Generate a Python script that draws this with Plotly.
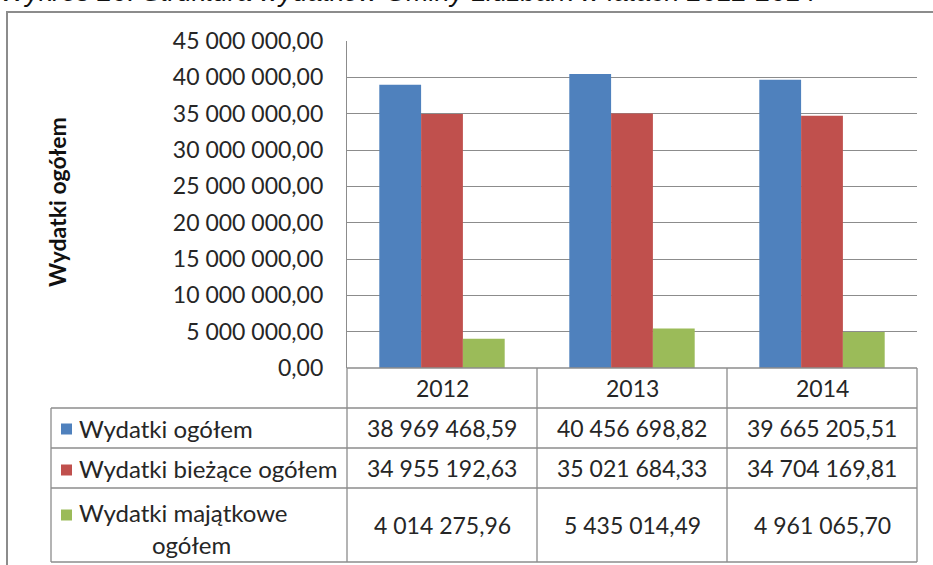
import plotly.graph_objects as go

years = ["2012", "2013", "2014"]
series_names = ["Wydatki ogółem", "Wydatki bieżące ogółem", "Wydatki majątkowe<br>ogółem"]
total = [38969468.59, 40456698.82, 39665205.51]
current = [34955192.63, 35021684.33, 34704169.81]
capital = [4014275.96, 5435014.49, 4961065.70]
colors = ["#4F81BD", "#C0504D", "#9BBB59"]
tick_vals = [0, 5e6, 10e6, 15e6, 20e6, 25e6, 30e6, 35e6, 40e6, 45e6]

W, H = 933, 565
X0, X1, Y0, Y1 = 347, 917, 41, 368
FONT = "Lato"
GRID = "#8c8c8c"
TXT = "#262626"


def px_x(x):
    return (x - X0) / (X1 - X0)


def px_y(y):
    return (Y1 - y) / (Y1 - Y0)


def fmt(v):
    whole, frac = f"{v:.2f}".split(".")
    groups = []
    while whole:
        groups.insert(0, whole[-3:])
        whole = whole[:-3]
    return " ".join(groups) + "," + frac


def note(text, x, y, xanchor="center", yanchor="middle", **kw):
    fig.add_annotation(text=text, xref="paper", yref="paper", x=px_x(x), y=px_y(y),
                       xanchor=xanchor, yanchor=yanchor, showarrow=False, **kw)


fig = go.Figure()
for name, vals, col in zip(series_names, [total, current, capital], colors):
    fig.add_trace(go.Bar(x=years, y=vals, name=name.replace("<br>", " "),
                         marker=dict(color=col, line=dict(width=0))))

fig.update_layout(
    width=W, height=H,
    margin=dict(l=X0, r=W - X1, t=Y0, b=H - Y1, autoexpand=False),
    plot_bgcolor="white", paper_bgcolor="white",
    barmode="group", bargap=0.34, bargroupgap=0,
    showlegend=False,
    font=dict(family=FONT, color=TXT),
)
fig.update_xaxes(showticklabels=False, showgrid=False, zeroline=False, showline=False)
fig.update_yaxes(
    range=[0, 45e6], tickvals=tick_vals, ticktext=[fmt(v) for v in tick_vals],
    tickfont=dict(size=23, family=FONT, color=TXT), ticks="", ticklabelstandoff=18,
    showgrid=True, gridcolor=GRID, gridwidth=1.3, zeroline=False,
    showline=True, linecolor=GRID, linewidth=1.3, automargin=False,
)

# title (cut off at the top) and y-axis title
note("<i>Wykres 20. Struktura wydatków Gminy Lidzbark w latach 2012-2014</i>", -2, 9,
     xanchor="left", yanchor="bottom", font=dict(family="Liberation Sans", size=27, color="#111"))
note("<b>Wydatki ogółem</b>", 57, 202, textangle=-90, font=dict(family=FONT, size=23, color="#111"))

shapes = []
# outer border
shapes.append(dict(type="rect", xref="paper", yref="paper", x0=px_x(7), x1=px_x(940), y0=px_y(12), y1=px_y(600),
                   line=dict(color="#8c8c8c", width=2)))
# table lines
col_edges = [347, 537, 727, 917]
row_edges = [368, 408, 448, 488, 562]
for y in row_edges[1:]:
    shapes.append(dict(type="line", xref="paper", yref="paper", x0=px_x(51), x1=px_x(917), y0=px_y(y), y1=px_y(y),
                       line=dict(color=GRID, width=1.3)))
shapes.append(dict(type="line", xref="paper", yref="paper", x0=px_x(347), x1=px_x(917), y0=px_y(368), y1=px_y(368),
                   line=dict(color=GRID, width=1.3)))
for x in col_edges:
    shapes.append(dict(type="line", xref="paper", yref="paper", x0=px_x(x), x1=px_x(x), y0=px_y(368), y1=px_y(562),
                       line=dict(color=GRID, width=1.3)))
shapes.append(dict(type="line", xref="paper", yref="paper", x0=px_x(51), x1=px_x(51), y0=px_y(408), y1=px_y(562),
                   line=dict(color=GRID, width=1.3)))

cell_font = dict(size=23, family=FONT, color=TXT)
label_font = dict(size=24, family=FONT, color=TXT)

# year headers
for i, yr in enumerate(years):
    note(yr, (col_edges[i] + col_edges[i + 1]) / 2, 388, font=cell_font)

# rows
row_centers = [428, 468, 525]
square_centers = [429, 470, 515]
for r, (name, vals, col) in enumerate(zip(series_names, [total, current, capital], colors)):
    sc = square_centers[r]
    shapes.append(dict(type="rect", xref="paper", yref="paper", x0=px_x(61), x1=px_x(72),
                       y0=px_y(sc + 5.5), y1=px_y(sc - 5.5), fillcolor=col, line=dict(width=0)))
    if "<br>" in name:
        first, second = name.split("<br>")
        note(first, 77, 512, xanchor="left", font=label_font)
        note(second, 191, 544, font=label_font)
    else:
        note(name, 77, row_centers[r], xanchor="left", font=label_font)
    for i, v in enumerate(vals):
        note(fmt(v), (col_edges[i] + col_edges[i + 1]) / 2, row_centers[r], font=cell_font)

fig.update_layout(shapes=shapes)
fig.write_html("out.html", config={"displayModeBar": False},
               post_script="document.body.style.margin='0';")
